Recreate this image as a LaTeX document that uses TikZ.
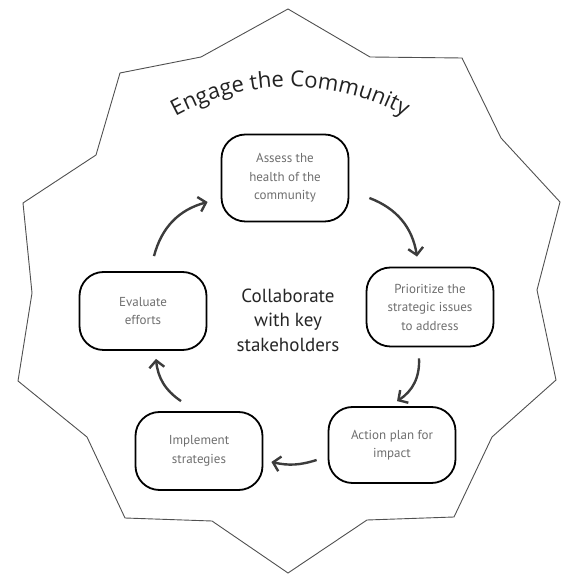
\documentclass[tikz,border=0pt]{standalone}
\usepackage{fontspec}
\setmainfont{PT Sans}
\newfontfamily\titlefam{Open Sans}
\usetikzlibrary{arrows.meta,decorations.text}
\definecolor{boxtext}{HTML}{6E6E6E}
\definecolor{arrowcol}{HTML}{3C3C3C}
\definecolor{starcol}{HTML}{505050}
\definecolor{centertext}{HTML}{262626}
\definecolor{titlecol}{HTML}{222222}
\begin{document}
\begin{tikzpicture}[x=1pt,y=1pt,
  stepbox/.style={draw=black, line width=1.8pt, rounded corners=24pt, align=center,
    text=boxtext, font=\fontsize{13}{18.5}\selectfont, inner sep=0pt,
    minimum width=127pt, minimum height=78pt},
  flow/.style={draw=arrowcol, line width=2.4pt, -{Straight Barb[length=7pt,width=15pt]}, bend left=#1},
  outline/.style={draw=starcol, line width=0.9pt, line join=miter}
]
\useasboundingbox (0,0) rectangle (569,575);
% star outline
\draw[outline] (288,566) -- (370,518) -- (462,517) -- (501,437) -- (560,373)
  -- (537,285) -- (556,195) -- (492,138) -- (454,58) -- (367,55) -- (288,2)
  -- (212,54) -- (125,57) -- (87,138) -- (18,194) -- (32,282) -- (23,372)
  -- (96,420) -- (120,502) -- (201,518) -- cycle;
% title along arc
\path[decorate, decoration={text along path,
  text={|\titlefam\fontsize{22}{26}\selectfont|Engage the Community},
  text align=center, text color=titlecol}]
  (290,250) ++(150:238) arc[start angle=150, end angle=30, radius=238];
% steps
\node[stepbox, minimum height=87pt] (assess) at (285,397) {Assess the\\health of the\\community};
\node[stepbox, minimum height=79pt] (prior) at (430,268) {Prioritize the\\strategic issues\\to address};
\node[stepbox, minimum height=76pt] (action) at (392,130) {Action plan for\\impact};
\node[stepbox] (impl) at (199,124) {Implement\\strategies};
\node[stepbox] (eval) at (143,264) {Evaluate\\efforts};
\node[font=\fontsize{19}{24.5}\selectfont, text=centertext, align=center] (centre) at (288,255)
  {Collaborate\\with key\\stakeholders};
% arrows
\draw[flow=30] ([shift={(20pt,-20pt)}]assess.east) to ([shift={(-13pt,10pt)}]prior.north);
\draw[flow=30] ([shift={(-11pt,-11pt)}]prior.south) to ([shift={(5pt,5pt)}]action.north);
\draw[flow=15] ([shift={(-11pt,-15pt)}]action.west) to ([shift={(8pt,-11pt)}]impl.east);
\draw[flow=25] ([shift={(-18pt,10pt)}]impl.north) to ([shift={(13pt,-8pt)}]eval.south);
\draw[flow=30] ([shift={(11pt,15pt)}]eval.north) to ([shift={(-13pt,-24pt)}]assess.west);
\end{tikzpicture}
\end{document}
